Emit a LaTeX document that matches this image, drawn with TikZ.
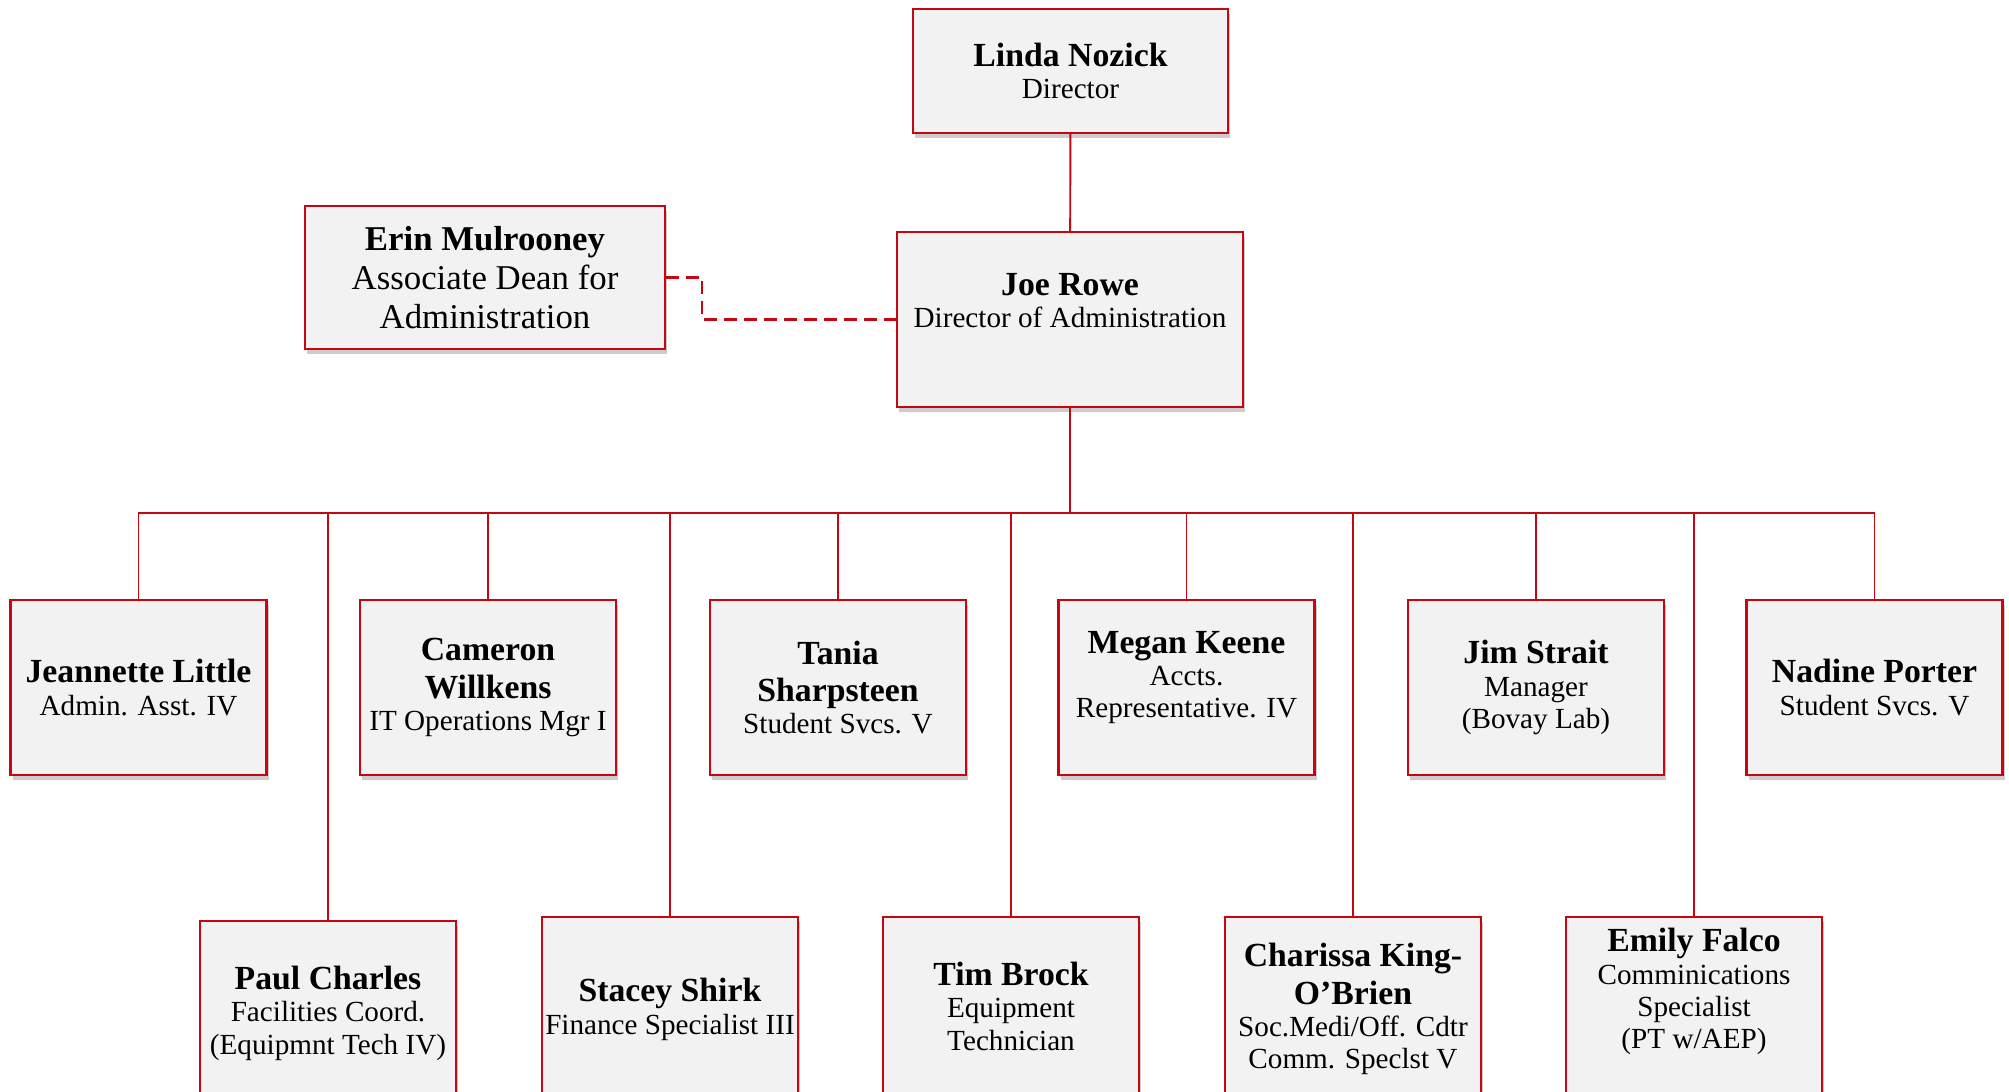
\documentclass[tikz,border=0pt]{standalone}
\usepackage{fontspec}
\setmainfont{Liberation Serif}
\usetikzlibrary{shadows}
\definecolor{chartred}{RGB}{196,8,16}
\definecolor{boxgray}{RGB}{242,242,242}
\newcommand{\nm}[1]{{\fontsize{9.6}{11}\selectfont\bfseries #1}}

\begin{document}
\begin{tikzpicture}
[%%%%%%%%%%%%%%%%%%%%%%%%%%%%%%
box/.style={rectangle,draw=chartred,line width=0.65pt,fill=boxgray,align=center,inner sep=1pt,
  font=\fontsize{8.3}{9.2}\selectfont,
  drop shadow={shadow xshift=0.02cm,shadow yshift=-0.05cm,fill=black,opacity=0.2}},
staff/.style={box,minimum width=2.56cm,minimum height=1.75cm},
lower/.style={box,minimum width=2.56cm,minimum height=1.9cm,anchor=north},
link/.style={draw=chartred,line width=0.55pt},
]%%%%%%%%%%%%%%%%%%%%%%%%%%%%%%
\useasboundingbox (0,0) rectangle (20.09,-10.92);

\node[box,minimum width=3.15cm,minimum height=1.24cm] (linda) at (10.705,-0.71) {\nm{Linda Nozick}\\Director};
\node[box,minimum width=3.46cm,minimum height=1.75cm,text depth=0.38cm] (joe) at (10.70,-3.195) {\nm{Joe Rowe}\\Director of Administration};
\node[box,minimum width=3.6cm,minimum height=1.43cm,font=\fontsize{9.9}{11}\selectfont] (erin) at (4.85,-2.775) {\textbf{Erin Mulrooney}\\Associate Dean for\\Administration};

\node[staff] (jl) at (1.385,-6.875) {\nm{Jeannette Little}\\Admin. Asst. IV};
\node[staff] (cw) at (4.88,-6.875) {\nm{Cameron}\\[1.5pt]\nm{Willkens}\\IT Operations Mgr I};
\node[staff] (ts) at (8.38,-6.875) {\nm{Tania}\\[1.5pt]\nm{Sharpsteen}\\Student Svcs. V};
\node[staff,text depth=0.26cm] (mk) at (11.865,-6.875) {\nm{Megan Keene}\\Accts.\\Representative. IV};
\node[staff] (js) at (15.36,-6.875) {\nm{Jim Strait}\\Manager\\(Bovay Lab)};
\node[staff] (np) at (18.745,-6.875) {\nm{Nadine Porter}\\Student Svcs. V};

\node[lower,text depth=0.12cm] (pc) at (3.28,-9.20) {\nm{Paul Charles}\\Facilities Coord.\\(Equipmnt Tech IV)};
\node[lower,text depth=0.12cm] (ss) at (6.70,-9.16) {\nm{Stacey Shirk}\\Finance Specialist III};
\node[lower,text depth=0.12cm] (tb) at (10.11,-9.16) {\nm{Tim Brock}\\Equipment\\Technician};
\node[lower,text depth=0.12cm] (ck) at (13.53,-9.16) {\nm{Charissa King-}\\[1.5pt]\nm{O’Brien}\\Soc.Medi/Off. Cdtr\\Comm. Speclst V};
\node[lower,text depth=0.47cm] (ef) at (16.94,-9.16) {\nm{Emily Falco}\\Comminications\\Specialist\\(PT w/AEP)};

\coordinate (bus) at (10.70,-5.13);
\draw[link] (linda) -- (joe);
\draw[link] (joe) -- (bus);
\foreach \n in {jl,cw,ts,mk,js,np,pc,ss,tb,ck,ef}
\draw[link] (\n.north) |- (bus);
\draw[link,line width=0.65pt,dash pattern=on 0.13cm off 0.07cm] (erin.east) -- ++(0.36,0) |- (joe.west);
\end{tikzpicture}
\end{document}
